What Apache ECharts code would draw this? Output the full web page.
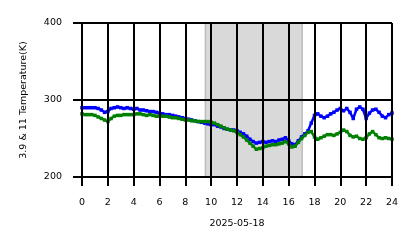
<!DOCTYPE html>
<html>
<head>
<meta charset="utf-8">
<script src="https://cdn.jsdelivr.net/npm/echarts@6/dist/echarts.min.js"></script>
<style>html,body{margin:0;padding:0;background:#fff}#c{width:418px;height:248px}</style>
</head>
<body>
<div id="c"></div>
<script>
var hours = [0,0.25,0.5,0.75,1,1.25,1.5,1.75,2,2.25,2.5,2.75,3,3.25,3.5,3.75,4,4.25,4.5,4.75,5,5.25,5.5,5.75,6,6.25,6.5,6.75,7,7.25,7.5,7.75,8,8.25,8.5,8.75,9,9.25,9.5,9.75,10,10.25,10.5,10.75,11,11.25,11.5,11.75,12,12.25,12.5,12.75,13,13.25,13.5,13.75,14,14.25,14.5,14.75,15,15.25,15.5,15.75,16,16.25,16.5,16.75,17,17.25,17.5,17.75,18,18.25,18.5,18.75,19,19.25,19.5,19.75,20,20.25,20.5,20.75,21,21.25,21.5,21.75,22,22.25,22.5,22.75,23,23.25,23.5,23.75,24];
var blueTemp = [290,290,290,290,290,289,287,284,285,289,290,291,290,289,290,289,288,289,287,287,286,285,285,284,283,282,281,281,280,279,278,277,276,275,274,273,272,271,270,269,268,268,266,265,263,262,261,261,260,258,256,253,249,246,244,245,246,245,246,247,246,248,249,251,247,243,242,247,252,256,260,270,280,282,279,277,279,282,284,287,289,286,289,284,276,288,291,288,276,283,287,288,284,279,277,281,283];
var greenTemp = [282,281,281,281,280,278,276,274,272,276,279,280,280,281,281,281,281,282,282,281,280,281,280,279,279,279,279,278,277,277,276,275,274,274,273,273,272,272,272,272,271,270,268,266,264,262,261,260,258,255,252,248,244,240,236,237,238,240,241,242,242,243,244,246,243,239,240,245,250,254,258,259,252,249,251,253,255,255,254,256,258,261,259,254,252,253,250,249,251,256,259,255,251,250,251,250,249];
var shadeRange = [9.55, 17.05];
var xTicks = [0,2,4,6,8,10,12,14,16,18,20,22,24];
var yTicks = [200,300,400];
var xTitle = '2025-05-18';
var yTitle = '3.9 & 11 Temperature(K)';

function pairs(xs, ys){ return xs.map(function(x,i){ return [x, ys[i]]; }); }

var chart = echarts.init(document.getElementById('c'), null, {renderer:'canvas'});
var font = 'DejaVu Sans';
chart.setOption({
  animation:false,
  backgroundColor:'#fff',
  grid:{left:82, right:26, top:23, bottom:71},
  xAxis:{
    type:'value', min:0, max:24, interval:2, z:5,
    name:xTitle, nameLocation:'middle', nameGap:42,
    nameTextStyle:{fontFamily:font, fontSize:9.5, color:'#000'},
    axisLine:{show:true, lineStyle:{color:'#000', width:2}},
    axisTick:{show:true, inside:false, length:9, lineStyle:{color:'#000', width:2}},
    axisLabel:{margin:21, fontFamily:font, fontSize:9.5, color:'#000'},
    splitLine:{show:true, lineStyle:{color:'#000', width:2}}
  },
  yAxis:{
    type:'value', min:200, max:400, interval:100, z:5,
    name:yTitle, nameLocation:'middle', nameGap:53, nameRotate:90,
    nameTextStyle:{fontFamily:font, fontSize:9.5, color:'#000'},
    axisLine:{show:false},
    axisTick:{show:true, inside:false, length:9, lineStyle:{color:'#000', width:2}},
    axisLabel:{margin:20, fontFamily:font, fontSize:9.5, color:'#000'},
    splitLine:{show:true, lineStyle:{color:'#000', width:2}}
  },
  series:[
    {
      type:'line', data:pairs(hours, blueTemp), z:2,
      symbol:'rect', symbolSize:3.5, showSymbol:true,
      itemStyle:{color:'#0000ff'},
      lineStyle:{color:'#0000ff', width:2.5},
      markArea:{silent:true, itemStyle:{color:'#d9d9d9', borderColor:'#bdbdbd', borderWidth:1.5},
        data:[[{xAxis:shadeRange[0]},{xAxis:shadeRange[1]}]]}
    },
    {
      type:'line', data:pairs(hours, greenTemp), z:3,
      symbol:'rect', symbolSize:3.5, showSymbol:true,
      itemStyle:{color:'#008000'},
      lineStyle:{color:'#008000', width:2.5}
    }
  ]
});
</script>
</body>
</html>
